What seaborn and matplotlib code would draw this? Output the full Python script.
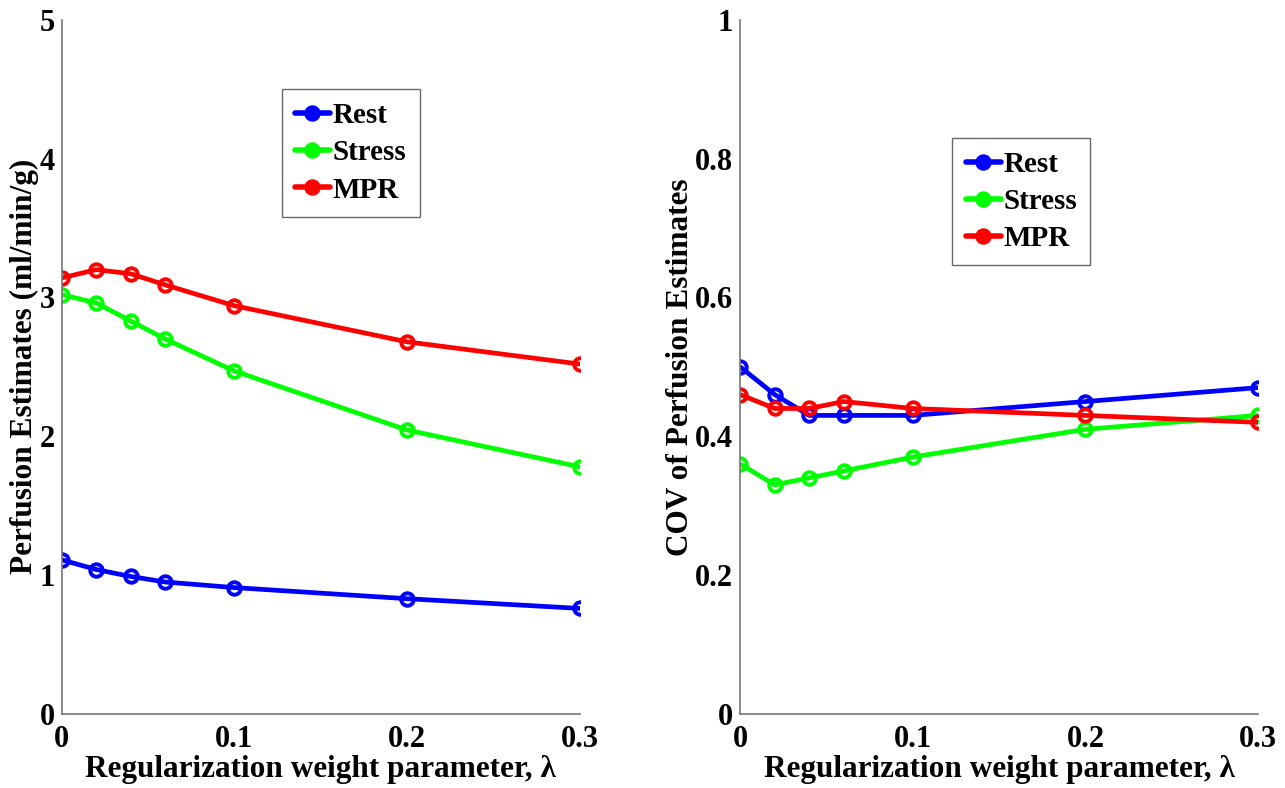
import seaborn as sns
from matplotlib import pyplot as plt
import pandas as pd

# regularization weights
lam = [0, 0.02, 0.04, 0.06, 0.1, 0.2, 0.3]

# perfusion estimates (ml/min/g)
rest_perf = [1.11, 1.04, 0.99, 0.95, 0.91, 0.83, 0.76]
stress_perf = [3.02, 2.96, 2.83, 2.70, 2.47, 2.045, 1.78]
mpr_perf = [3.14, 3.20, 3.17, 3.09, 2.94, 2.68, 2.52]

# coefficient of variation
rest_cov = [0.50, 0.46, 0.43, 0.43, 0.43, 0.45, 0.47]
stress_cov = [0.36, 0.33, 0.34, 0.35, 0.37, 0.41, 0.43]
mpr_cov = [0.46, 0.44, 0.44, 0.45, 0.44, 0.43, 0.42]

series = ['Rest', 'Stress', 'MPR']
colors = {'Rest': '#0000ff', 'Stress': '#00ff00', 'MPR': '#ff0000'}

perf = pd.DataFrame({'lam': lam * 3,
                     'val': rest_perf + stress_perf + mpr_perf,
                     'series': [s for s in series for _ in lam]})
cov = pd.DataFrame({'lam': lam * 3,
                    'val': rest_cov + stress_cov + mpr_cov,
                    'series': [s for s in series for _ in lam]})

sns.set_style('white')
plt.rcParams['font.family'] = ['Liberation Serif', 'DejaVu Serif']
plt.rcParams['font.weight'] = 'bold'
plt.rcParams['text.color'] = 'black'
plt.rcParams['axes.labelcolor'] = 'black'
plt.rcParams['xtick.color'] = 'black'
plt.rcParams['ytick.color'] = 'black'

fig = plt.figure(figsize=(12.85, 7.88), dpi=100)
ax1 = fig.add_axes([0.048, 0.094, 0.403, 0.881])
ax2 = fig.add_axes([0.576, 0.094, 0.403, 0.881])

for ax, df, ylim, yticks, ylabel, leg_pos in [
        (ax1, perf, (0, 5), [0, 1, 2, 3, 4, 5], 'Perfusion Estimates (ml/min/g)', (0.425, 0.90)),
        (ax2, cov, (0, 1), [0, 0.2, 0.4, 0.6, 0.8, 1], 'COV of Perfusion Estimates', (0.41, 0.83))]:
    sns.lineplot(data=df, x='lam', y='val', hue='series', palette=colors, ax=ax,
                 marker='o', markersize=9, markerfacecolor='none', markeredgewidth=2.8,
                 linewidth=3.4, legend=True)
    for line, s in zip(ax.get_lines(), series):
        line.set_markeredgecolor(colors[s])
    ax.set_xlim(0, 0.3)
    ax.set_ylim(*ylim)
    ax.set_xticks([0, 0.1, 0.2, 0.3])
    ax.set_xticklabels(['0', '0.1', '0.2', '0.3'])
    ax.set_yticks(yticks)
    ax.set_yticklabels(['%g' % t for t in yticks])
    ax.tick_params(direction='in', length=6, color='#777777', labelsize=22,
                   labelcolor='black', pad=5)
    ax.tick_params(axis='x', pad=8)
    for s in ['top', 'right']:
        ax.spines[s].set_visible(False)
    for s in ['left', 'bottom']:
        ax.spines[s].set_color('#777777')
        ax.spines[s].set_linewidth(1.2)
    ax.set_xlabel('Regularization weight parameter, λ', fontsize=22.5, fontweight='bold', labelpad=1)
    ax.set_ylabel(ylabel, fontsize=22.5, fontweight='bold', labelpad=0)
    handles, labels = ax.get_legend_handles_labels()
    for h, s in zip(handles, labels):
        h.set_marker('o')
        h.set_markerfacecolor(colors[s])
        h.set_markeredgecolor(colors[s])
        h.set_markersize(9)
        h.set_linewidth(4)
    leg = ax.legend(handles, labels, loc='upper left', bbox_to_anchor=leg_pos,
                    fontsize=21, frameon=True, fancybox=False, edgecolor='#444444',
                    handlelength=1.2, handletextpad=0.1, borderpad=0.45, labelspacing=0.35,
                    borderaxespad=0)
    leg.get_frame().set_linewidth(1.0)
    for t in leg.get_texts():
        t.set_fontweight('bold')

plt.savefig('out.png', dpi=100)
